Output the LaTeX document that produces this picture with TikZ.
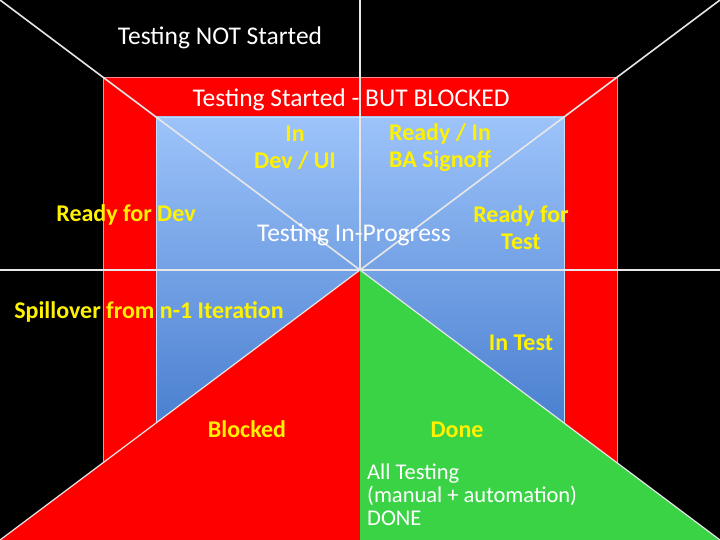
\documentclass[tikz,border=0pt]{standalone}
\usepackage{fontspec}
\setmainfont{Carlito}
\definecolor{donegreen}{HTML}{3AD346}
\definecolor{skytop}{HTML}{9DC3FA}
\definecolor{skybottom}{HTML}{4A80D0}
\definecolor{chalkline}{HTML}{E8E8E8}
\begin{document}
\begin{tikzpicture}[x=1pt, y=-1pt,
    stage/.style={text=yellow, font=\fontsize{24}{27}\selectfont\bfseries, align=center},
    chalk/.style={text=white, font=\fontsize{25.5}{21}\selectfont, align=left}]

    % 1. Черный фон (все поле 720 x 540)
    \fill[black] (0,0) rectangle (720,540);
    \useasboundingbox (0,0) rectangle (720,540);

    % 2. Красная рамка (Testing Started - BUT BLOCKED)
    \draw[red!45!white, fill=red] (103,77) rectangle (617,463);

    % 3. Синий прямоугольник с градиентом (Testing In-Progress)
    \draw[skytop!60!white, top color=skytop, bottom color=skybottom] (156,117) rectangle (564,423);

    % 4. Белые линии: диагонали, горизонталь и вертикаль
    \draw[chalkline, line width=1.6pt] (0,0) -- (360,270) -- (720,0);
    \draw[chalkline, line width=1.6pt] (0,270) -- (720,270);
    \draw[chalkline, line width=1.6pt] (360,0) -- (360,270);

    % 5. Треугольники снизу (Blocked и Done)
    \fill[red] (360,270) -- (0,540) -- (360,540) -- cycle;
    \fill[donegreen] (360,270) -- (720,540) -- (360,540) -- cycle;
    \draw[chalkline, line width=1.2pt] (0,540) -- (360,270) -- (720,540);

    % 6. Белые подписи
    \node[chalk] (notstarted) at (220,38) {Testing NOT Started};
    \node[chalk] (startedblocked) at (351,100) {Testing Started - BUT BLOCKED};
    \node[chalk] (inprogress) at (354,235) {Testing In-Progress};
    \node[chalk, font=\fontsize{22.5}{23}\selectfont, anchor=north west, inner sep=0pt] (alldone) at (367,464)
        {All Testing\\(manual + automation)\\DONE};

    % 7. Желтые подписи (стадии)
    \node[stage] (indev) at (295,148) {In\\Dev / UI};
    \node[stage] (signoff) at (440,148) {Ready / In\\BA Signoff};
    \node[stage] (readydev) at (126,215) {Ready for Dev};
    \node[stage] (readytest) at (521,228) {Ready for\\Test};
    \node[stage] (spillover) at (149,312) {Spillover from n-1 Iteration};
    \node[stage] (intest) at (521,343) {In Test};
    \node[stage] (blocked) at (247,429) {Blocked};
    \node[stage] (done) at (457,430) {Done};

\end{tikzpicture}
\end{document}
